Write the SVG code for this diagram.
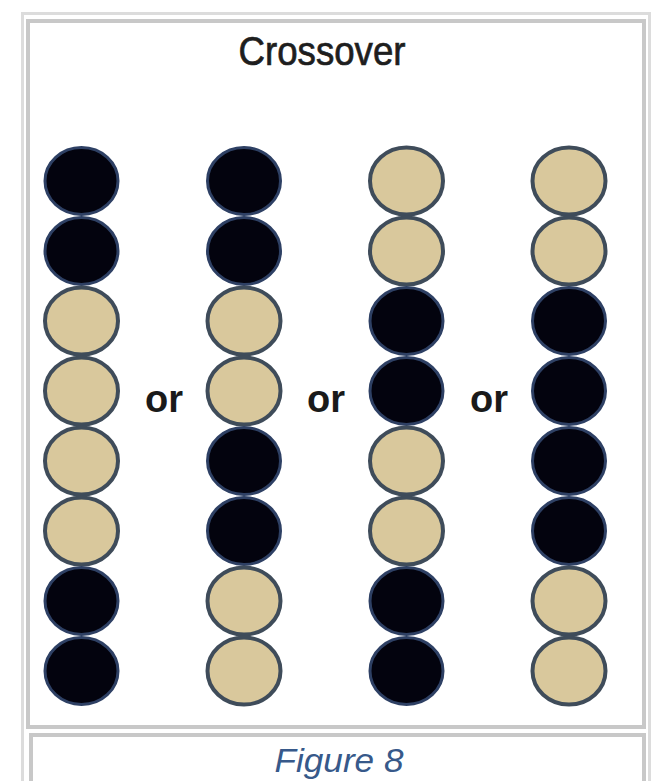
<svg xmlns="http://www.w3.org/2000/svg" width="658" height="781" viewBox="0 0 658 781">
<style>
.frame{fill:#ffffff;stroke:#dcdcdc;stroke-width:3}
.panel{fill:#ffffff;stroke:#c8c8c8;stroke-width:4}
.d{fill:#03030e;stroke:#2e4064;stroke-width:3}
.t{fill:#d9c89c;stroke:#3f4c5a;stroke-width:4}
.or{font-family:"Liberation Sans",Arial,sans-serif;font-weight:bold;font-size:38px;fill:#1a1a1a;text-anchor:middle}
.title{font-family:"Liberation Sans",Arial,sans-serif;font-size:40px;fill:#1e1e1e;stroke:#1e1e1e;stroke-width:0.7;text-anchor:middle}
.cap{font-family:"Liberation Sans",Arial,sans-serif;font-style:italic;font-size:34px;fill:#37598a;text-anchor:middle}
</style>
<defs>
<ellipse id="b" cx="0" cy="0" rx="36.5" ry="33.5"/>
</defs>
<rect width="658" height="781" fill="#ffffff"/>
<rect class="frame" x="22.5" y="13.5" width="627" height="790"/>
<g id="panel">
<rect class="panel" x="28" y="21" width="616" height="706"/>
<text class="title" x="322" y="65" textLength="167" lengthAdjust="spacingAndGlyphs">Crossover</text>
</g>
<g id="col1">
<use href="#b" class="d" x="81.5" y="181"/>
<use href="#b" class="d" x="81.5" y="251"/>
<use href="#b" class="t" x="81.5" y="321"/>
<use href="#b" class="t" x="81.5" y="391"/>
<use href="#b" class="t" x="81.5" y="461"/>
<use href="#b" class="t" x="81.5" y="531"/>
<use href="#b" class="d" x="81.5" y="601"/>
<use href="#b" class="d" x="81.5" y="671"/>
</g>
<g id="col2">
<use href="#b" class="d" x="244" y="181"/>
<use href="#b" class="d" x="244" y="251"/>
<use href="#b" class="t" x="244" y="321"/>
<use href="#b" class="t" x="244" y="391"/>
<use href="#b" class="d" x="244" y="461"/>
<use href="#b" class="d" x="244" y="531"/>
<use href="#b" class="t" x="244" y="601"/>
<use href="#b" class="t" x="244" y="671"/>
</g>
<g id="col3">
<use href="#b" class="t" x="406.5" y="181"/>
<use href="#b" class="t" x="406.5" y="251"/>
<use href="#b" class="d" x="406.5" y="321"/>
<use href="#b" class="d" x="406.5" y="391"/>
<use href="#b" class="t" x="406.5" y="461"/>
<use href="#b" class="t" x="406.5" y="531"/>
<use href="#b" class="d" x="406.5" y="601"/>
<use href="#b" class="d" x="406.5" y="671"/>
</g>
<g id="col4">
<use href="#b" class="t" x="569" y="181"/>
<use href="#b" class="t" x="569" y="251"/>
<use href="#b" class="d" x="569" y="321"/>
<use href="#b" class="d" x="569" y="391"/>
<use href="#b" class="d" x="569" y="461"/>
<use href="#b" class="d" x="569" y="531"/>
<use href="#b" class="t" x="569" y="601"/>
<use href="#b" class="t" x="569" y="671"/>
</g>
<g id="labels">
<text class="or" x="164" y="412">or</text>
<text class="or" x="326" y="412">or</text>
<text class="or" x="489" y="412">or</text>
</g>
<g id="caption">
<rect class="panel" x="31" y="735" width="613" height="60"/>
<text class="cap" x="339" y="772" textLength="129" lengthAdjust="spacingAndGlyphs">Figure 8</text>
</g>
</svg>
